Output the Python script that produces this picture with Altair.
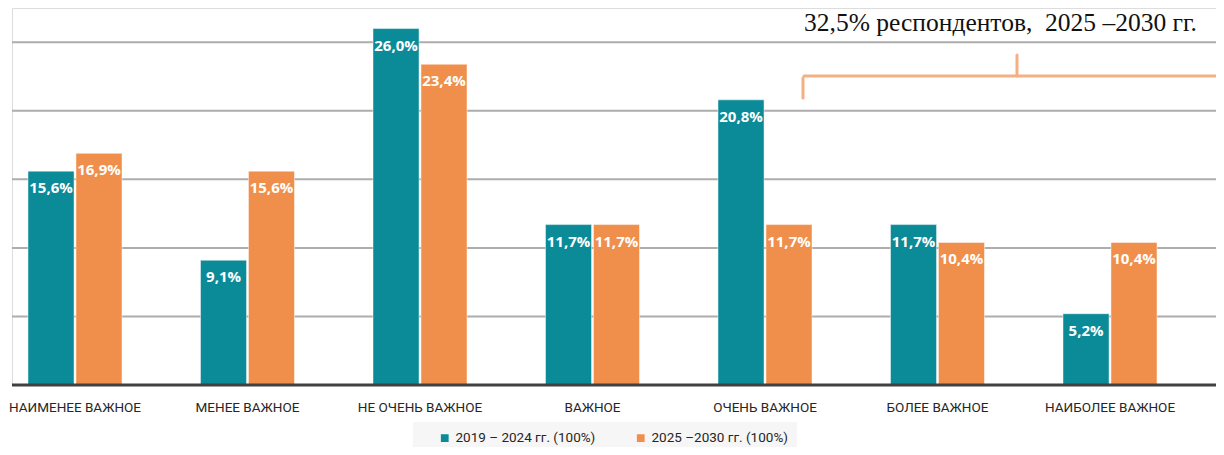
import altair as alt
import pandas as pd

categories = ["НАИМЕНЕЕ ВАЖНОЕ", "МЕНЕЕ ВАЖНОЕ", "НЕ ОЧЕНЬ ВАЖНОЕ", "ВАЖНОЕ",
              "ОЧЕНЬ ВАЖНОЕ", "БОЛЕЕ ВАЖНОЕ", "НАИБОЛЕЕ ВАЖНОЕ"]
series_names = ["2019 – 2024 гг. (100%)", "2025 –2030 гг. (100%)"]
values_2019 = [15.6, 9.1, 26.0, 11.7, 20.8, 11.7, 5.2]
values_2025 = [16.9, 15.6, 23.4, 11.7, 11.7, 10.4, 10.4]
grid_values = [5, 10, 15, 20, 25]
colors = ["#0B8A97", "#F08F4B"]
annotation = "32,5% респондентов,\u00a0 2025 –2030 гг."

rows = []
for i, c in enumerate(categories):
    rows.append({"cat": c, "series": series_names[0], "value": values_2019[i]})
    rows.append({"cat": c, "series": series_names[1], "value": values_2025[i]})
df = pd.DataFrame(rows)

W, H = 1204, 377
LABEL_FONT = "Roboto"

x_enc = alt.X("cat:N", sort=categories,
              scale=alt.Scale(range=[-23.25, 1184.25], paddingInner=0.455, paddingOuter=0.2275),
              axis=alt.Axis(title=None, domain=False, ticks=False, labelAngle=0,
                            labelFont=LABEL_FONT, labelFontSize=13.5, labelColor="#262626",
                            labelPadding=15))
xo_enc = alt.XOffset("series:N", sort=series_names,
                     scale=alt.Scale(paddingInner=0.04, paddingOuter=0))
y_scale = alt.Scale(domain=[0, 27.5], nice=False, zero=True)

grid = alt.Chart(pd.DataFrame({"g": grid_values})).mark_rule(
    color="#ADADAD", strokeWidth=2).encode(
    y=alt.Y("g:Q", scale=y_scale), x=alt.value(0), x2=alt.value(W))

base = alt.Chart(df)

bars = base.mark_bar(stroke="#ffffff", strokeWidth=0.8, strokeOpacity=0.6).encode(
    x=x_enc,
    xOffset=xo_enc,
    y=alt.Y("value:Q", scale=y_scale,
            axis=alt.Axis(title=None, labels=False, ticks=False, domain=False, grid=False)),
    color=alt.Color("series:N", sort=series_names,
                    scale=alt.Scale(domain=series_names, range=colors),
                    legend=alt.Legend(title=None, orient="none", legendX=401, legendY=414,
                                      direction="horizontal", symbolType="square",
                                      symbolSize=60, symbolStrokeWidth=0,
                                      labelFont=LABEL_FONT, labelFontSize=13.5,
                                      labelColor="#262626", columnPadding=22,
                                      fillColor="#F6F6F6", padding=9,
                                      symbolOffset=16)),
)

labels = base.transform_calculate(
    lbl="replace(format(datum.value, '.1f'), '.', ',') + '%'"
).mark_text(color="white", fontWeight="bold", font="Open Sans", fontSize=15,
            baseline="middle", dy=17).encode(
    x=alt.X("cat:N", sort=categories),
    xOffset=alt.XOffset("series:N", sort=series_names),
    y=alt.Y("value:Q", scale=y_scale),
    text="lbl:N",
)

one = pd.DataFrame({"k": [0]})
baseline = alt.Chart(one).mark_rule(color="#404040", strokeWidth=3).encode(
    y=alt.datum(0), x=alt.value(0), x2=alt.value(W))

brace_color = "#F4B083"
b1 = alt.Chart(one).mark_rule(color=brace_color, strokeWidth=3, strokeCap="round").encode(
    x=alt.value(791), y=alt.value(70), y2=alt.value(90))
b2 = alt.Chart(one).mark_rule(color=brace_color, strokeWidth=3, strokeCap="round").encode(
    x=alt.value(792), x2=alt.value(W), y=alt.value(68))
b3 = alt.Chart(one).mark_rule(color=brace_color, strokeWidth=3, strokeCap="round").encode(
    x=alt.value(1005), y=alt.value(47), y2=alt.value(68))

ann = alt.Chart(pd.DataFrame({"t": [annotation]})).mark_text(
    font="Liberation Serif", fontSize=25.5, align="right", baseline="alphabetic",
    color="#111111").encode(x=alt.value(1185), y=alt.value(23), text="t:N")

chart = alt.layer(grid, bars, labels, baseline, b1, b2, b3, ann).properties(
    width=W, height=H,
    padding={"left": 4, "top": 0, "right": 0, "bottom": 62},
    autosize=alt.AutoSizeParams(type="none"),
).configure_view(stroke=None).configure(background="white")

chart.save("out.html", embed_options={"renderer": "svg", "actions": False})
